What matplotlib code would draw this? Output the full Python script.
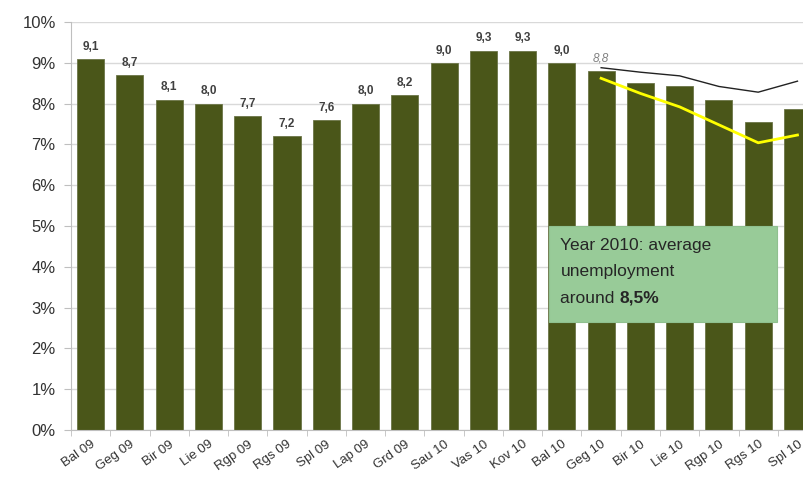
import matplotlib.pyplot as plt
import numpy as np

plt.rcParams['font.family'] = ['Liberation Sans', 'DejaVu Sans']

# months (Lithuanian abbreviations)
months = ["Bal 09", "Geg 09", "Bir 09", "Lie 09", "Rgp 09", "Rgs 09", "Spl 09",
          "Lap 09", "Grd 09", "Sau 10", "Vas 10", "Kov 10", "Bal 10", "Geg 10",
          "Bir 10", "Lie 10", "Rgp 10", "Rgs 10", "Spl 10"]
rate = [9.1, 8.7, 8.1, 8.0, 7.7, 7.2, 7.6, 8.0, 8.2, 9.0, 9.3, 9.3, 9.0, 8.8,
        8.5, 8.43, 8.1, 7.56, 7.88]
labels = ["9,1", "8,7", "8,1", "8,0", "7,7", "7,2", "7,6", "8,0", "8,2", "9,0",
          "9,3", "9,3", "9,0", "8,8"]

# forecast lines from Geg 10 onwards
fc_start = 13
fc_black = [8.88, 8.77, 8.68, 8.42, 8.28, 8.55]
fc_yellow = [8.62, 8.25, 7.92, 7.48, 7.04, 7.23]

yticks = list(range(0, 11))

fig = plt.figure(figsize=(8.04, 4.9), dpi=100)
ax = fig.add_axes([0.0883, 0.1224, 0.928, 0.8327])

x = np.arange(len(months))
ax.bar(x, rate, width=0.69, color="#4a5619", edgecolor="#6b7548", linewidth=0.6, zorder=2)

for i, lab in enumerate(labels):
    if i == fc_start:
        ax.text(x[i], rate[i] + 0.15, lab, ha="center", va="bottom", fontsize=8.5,
                style="italic", color="#808080")
    else:
        ax.text(x[i], rate[i] + 0.15, lab, ha="center", va="bottom", fontsize=8.5,
                fontweight="bold", color="#404040")

xf = x[fc_start:fc_start + len(fc_black)]
ax.plot(xf, fc_black, color="#222222", linewidth=1.0, zorder=3)
ax.plot(xf, fc_yellow, color="#ffff00", linewidth=2.0, zorder=3)

ax.set_ylim(0, 10)
ax.set_xlim(-0.5, len(months) - 0.5)
ax.set_yticks(yticks)
ax.set_yticklabels([f"{t}%" for t in yticks], fontsize=12, color="#333333")
ax.yaxis.grid(True, color="#d9d9d9", linewidth=1.0, zorder=0)
ax.set_axisbelow(True)

ax.set_xticks(x)
ax.set_xticklabels(months, rotation=35, ha="right", rotation_mode="anchor",
                   fontsize=9.5, color="#333333")
ax.tick_params(axis="x", which="major", length=0, pad=6)
ax.set_xticks(np.arange(-0.5, len(months), 1), minor=True)
ax.tick_params(axis="x", which="minor", length=4, color="#bfbfbf")
ax.tick_params(axis="y", length=5, color="#bfbfbf", pad=6)

for s in ["top", "right"]:
    ax.spines[s].set_visible(False)
ax.spines["left"].set_color("#bfbfbf")
ax.spines["bottom"].set_color("#bfbfbf")

# annotation box
box = plt.Rectangle((0.683, 0.343), 0.2836, 0.196, transform=fig.transFigure,
                    facecolor="#98cb98", edgecolor="#8fc08f", linewidth=0.8, zorder=5)
fig.patches.append(box)
line_y = [0.489, 0.437, 0.382]
fig.text(0.697, line_y[0], "Year 2010: average", fontsize=12.5, color="#262626",
         va="baseline", zorder=6)
fig.text(0.697, line_y[1], "unemployment", fontsize=12.5, color="#262626",
         va="baseline", zorder=6)
t3 = fig.text(0.697, line_y[2], "around ", fontsize=12.5, color="#262626",
              va="baseline", zorder=6)

# bold value right after "around"
fig.canvas.draw()
ext = t3.get_window_extent()
x_end = fig.transFigure.inverted().transform((ext.x1, 0))[0]
fig.text(x_end, line_y[2], "8,5%", fontsize=12.5, fontweight="bold", color="#262626",
         va="baseline", zorder=6)

fig.savefig("out.png", dpi=100)
